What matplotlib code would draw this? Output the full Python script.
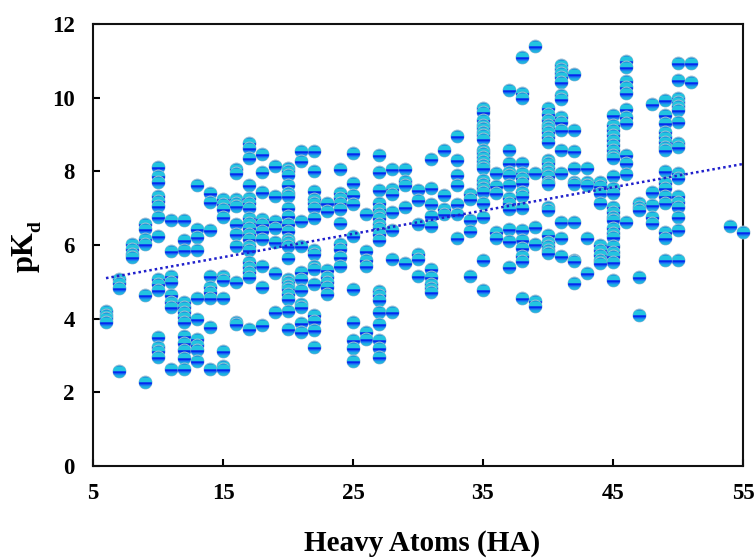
# -*- coding: utf-8 -*-
"""pKd against heavy atom count, scatter with glossy ball markers"""
import numpy as np
import matplotlib
matplotlib.use("Agg")
import matplotlib.pyplot as plt
from matplotlib.path import Path

# pKd values per heavy atom count
pk_06 = [4.21, 4.10, 4.01, 3.92]
pk_07 = [5.09, 4.97, 4.84, 2.58]
pk_08 = [6.03, 5.89, 5.76, 5.67]
pk_09 = [6.56, 6.43, 6.16, 6.03, 4.64, 2.28]
pk_10 = [8.11, 7.87, 7.71, 7.33, 7.19, 7.06, 6.76, 6.25, 5.09, 4.95, 4.77, 3.50, 3.24, 3.11, 2.97]
pk_11 = [6.67, 5.85, 5.15, 4.99, 4.64, 4.46, 4.32, 2.64]
pk_12 = [6.67, 6.13, 5.87, 4.46, 4.32, 4.19, 4.05, 3.92, 3.53, 3.33, 3.15, 2.93, 2.62]
pk_13 = [7.64, 6.43, 6.22, 5.86, 4.55, 3.99, 3.44, 3.29, 3.15, 2.84]
pk_14 = [7.42, 7.17, 6.40, 5.16, 4.86, 4.73, 4.57, 3.78, 2.62]
pk_15 = [7.24, 7.10, 6.97, 6.76, 5.15, 5.04, 4.57, 3.11, 2.71, 2.62]
pk_16 = [8.05, 7.96, 7.24, 7.15, 7.06, 6.56, 6.29, 5.98, 5.00, 3.92, 3.86]
pk_17 = [8.77, 8.63, 8.36, 7.62, 7.28, 7.15, 7.01, 6.74, 6.61, 6.47, 6.29, 6.16, 5.98, 5.86,
         5.53, 5.40, 5.26, 5.13, 3.72]
pk_18 = [8.48, 7.97, 7.44, 6.70, 6.56, 6.38, 6.16, 5.44, 4.86, 3.82]
pk_19 = [8.14, 7.33, 6.64, 6.47, 6.09, 5.24, 4.17]
pk_20 = [8.09, 8.00, 7.89, 7.64, 7.42, 7.33, 7.01, 6.79, 6.56, 6.38, 6.16, 6.07, 5.98, 5.64,
         5.08, 4.99, 4.90, 4.81, 4.68, 4.54, 4.21, 3.72]
pk_21 = [8.54, 8.27, 6.64, 5.98, 5.26, 5.08, 4.77, 4.41, 4.32, 3.87, 3.64]
pk_22 = [8.56, 8.02, 7.46, 7.24, 7.15, 7.00, 6.72, 5.86, 5.75, 5.44, 5.35, 4.93, 4.09, 3.93, 3.69, 3.22]
pk_23 = [7.13, 6.92, 5.32, 5.13, 4.99, 4.86, 4.68]
pk_24 = [8.07, 7.42, 7.28, 7.15, 6.97, 6.59, 6.03, 5.89, 5.68, 5.44]
pk_25 = [8.50, 7.68, 7.35, 7.12, 6.25, 4.80, 3.91, 3.42, 3.20, 2.85]
pk_26 = [6.83, 5.85, 5.58, 5.44, 3.63, 3.44]
pk_27 = [8.45, 7.99, 7.48, 7.14, 6.99, 6.85, 6.72, 6.58, 6.45, 6.31, 6.13, 4.75, 4.63, 4.50,
         4.18, 3.85, 3.42, 3.20, 2.97]
pk_28 = [8.05, 7.53, 7.39, 6.90, 6.40, 5.62, 4.17]
pk_29 = [8.05, 7.75, 7.64, 7.02, 5.50]
pk_30 = [7.50, 7.23, 6.56, 5.76, 5.62, 5.17]
pk_31 = [8.33, 7.55, 7.11, 6.78, 6.51, 5.35, 5.13, 4.95, 4.83, 4.72]
pk_32 = [8.59, 7.35, 6.99, 6.85]
pk_33 = [8.96, 8.30, 7.89, 7.64, 7.12, 6.85, 6.18]
pk_34 = [7.39, 7.26, 6.67, 6.39, 5.15]
pk_35 = [9.71, 9.62, 9.39, 9.26, 9.17, 9.08, 8.98, 8.89, 8.58, 8.49, 8.40, 8.29, 8.17, 8.08,
         7.77, 7.66, 7.54, 7.45, 7.13, 6.75, 5.58, 4.78]
pk_36 = [7.95, 7.59, 7.41, 6.36, 6.18]
pk_37 = [10.21, 8.59, 8.23, 7.99, 7.90, 7.63, 7.27, 7.13, 6.99, 6.44, 6.11, 5.39]
pk_38 = [11.10, 10.14, 9.99, 8.23, 7.95, 7.81, 7.68, 7.45, 7.34, 7.01, 6.41, 6.14, 5.92, 5.69, 5.56, 4.56]
pk_39 = [11.39, 7.95, 6.48, 6.03, 4.49, 4.35]
pk_40 = [9.71, 9.57, 9.39, 9.26, 9.17, 9.08, 8.93, 8.80, 8.31, 8.22, 8.08, 7.99, 7.86, 7.72, 7.66,
         7.04, 6.95, 6.27, 6.09, 5.96, 5.87, 5.78]
pk_41 = [10.89, 10.77, 10.66, 10.55, 10.42, 10.08, 9.96, 9.47, 9.35, 9.11, 8.59, 7.95, 6.63, 6.18, 5.69]
pk_42 = [10.64, 9.12, 8.56, 8.08, 7.72, 7.66, 6.63, 5.60, 5.56, 4.96]
pk_43 = [8.08, 7.72, 7.63, 6.18, 5.25]
pk_44 = [7.72, 7.59, 7.41, 7.13, 6.00, 5.87, 5.73, 5.60, 5.50]
pk_45 = [9.53, 9.26, 9.12, 8.98, 8.84, 8.71, 8.58, 8.44, 8.35, 7.87, 7.54, 7.41, 7.04, 6.90, 6.77,
         6.68, 6.45, 6.32, 6.21, 5.96, 5.82, 5.69, 5.53, 5.04]
pk_46 = [11.00, 10.84, 10.44, 10.30, 10.12, 9.69, 9.47, 9.30, 8.44, 8.23, 7.93, 6.62]
pk_47 = [7.13, 7.04, 6.95, 5.14, 4.10]
pk_48 = [9.82, 7.43, 7.08, 6.77, 6.59]
pk_49 = [9.93, 9.53, 9.30, 9.08, 8.93, 8.80, 8.66, 8.58, 8.01, 7.68, 7.54, 7.32, 7.13, 6.36, 6.18, 5.58]
pk_50 = [10.93, 10.48, 9.98, 9.89, 9.77, 9.66, 9.35, 8.76, 8.65, 7.95, 7.81, 7.32, 7.17, 7.04,
         6.77, 6.41, 5.60]
pk_51 = [10.93, 10.43]
pk_54 = [6.52]
pk_55 = [6.36]

columns = [(6, pk_06), (7, pk_07), (8, pk_08), (9, pk_09), (10, pk_10), (11, pk_11), (12, pk_12),
           (13, pk_13), (14, pk_14), (15, pk_15), (16, pk_16), (17, pk_17), (18, pk_18), (19, pk_19),
           (20, pk_20), (21, pk_21), (22, pk_22), (23, pk_23), (24, pk_24), (25, pk_25), (26, pk_26),
           (27, pk_27), (28, pk_28), (29, pk_29), (30, pk_30), (31, pk_31), (32, pk_32), (33, pk_33),
           (34, pk_34), (35, pk_35), (36, pk_36), (37, pk_37), (38, pk_38), (39, pk_39), (40, pk_40),
           (41, pk_41), (42, pk_42), (43, pk_43), (44, pk_44), (45, pk_45), (46, pk_46), (47, pk_47),
           (48, pk_48), (49, pk_49), (50, pk_50), (51, pk_51), (54, pk_54), (55, pk_55)]

trend_x = [6, 55]
trend_y = [5.10, 8.20]
x_ticks = [5, 15, 25, 35, 45, 55]
y_ticks = [0, 2, 4, 6, 8, 10, 12]


def band_marker(y0, y1):
    """slice of the unit circle between y0 and y1, keeps full width so the scale stays"""
    t = np.linspace(np.arcsin(y0), np.arcsin(y1), 12)
    right = np.column_stack([np.cos(t), np.sin(t)])
    left = np.column_stack([-np.cos(t[::-1]), np.sin(t[::-1])])
    verts = np.vstack([right, left, right[:1]])
    # empty moves out to radius 1 so matplotlib scales it like the circle
    verts = np.vstack([verts, [[1, 0], [-1, 0], [0, 1], [0, -1]]])
    codes = [Path.MOVETO] + [Path.LINETO] * 23 + [Path.CLOSEPOLY] + [Path.MOVETO] * 4
    return Path(verts, codes)


plt.rcParams['font.family'] = ['Liberation Serif']
plt.rcParams['font.weight'] = 'bold'

fig = plt.figure(figsize=(7.56, 5.58), dpi=100)
ax = fig.add_axes([93 / 756, 1 - 466 / 558, 650 / 756, 442 / 558])

# glossy ball: base colour + stacked bands, low balls are drawn last so they sit on top
layers = [
    (band_marker(0.0, 0.72), '#22c4e0'),
    (band_marker(-0.55, 0.0), '#1a86f2'),
    (band_marker(-0.30, 0.02), '#0628ee'),
    (band_marker(-0.95, -0.60), '#1eb2e2'),
]
points = [(x, v) for x, vals in columns for v in vals]
points.sort(key=lambda p: -p[1])
size = 86
for i, (x, v) in enumerate(points):
    ax.scatter(x, v, s=size, marker='o', color='#1e98dc', edgecolors='#9dbcd2', linewidths=0.7,
               zorder=3 + i * 0.001, clip_on=False)
    for path, col in layers:
        ax.scatter(x, v, s=size, marker=path, color=col, linewidths=0,
                   zorder=3 + i * 0.001, clip_on=False)

ax.plot(trend_x, trend_y, color='#2020cc', linestyle=(0, (1, 1.2)), linewidth=1.8, zorder=20)

ax.set_xlim(5, 55)
ax.set_ylim(0, 12)
ax.set_xticks(x_ticks)
ax.set_yticks(y_ticks)
ax.tick_params(direction='in', length=5, width=1.5, labelsize=16.5)
ax.tick_params(axis='x', pad=12)
ax.tick_params(axis='y', pad=13)
for s in ax.spines.values():
    s.set_linewidth(1.5)
    s.set_color('#111111')

fig.text(422 / 756, 1 - 551 / 558, 'Heavy Atoms (HA)', ha='center', va='baseline', fontsize=21, fontweight='bold')
# pK and the subscript d are set by hand, rotated along the axis
fig.text(33 / 756, 1 - 272 / 558, 'pK', rotation=90, rotation_mode='anchor', ha='left', va='baseline',
         fontsize=22, fontweight='bold')
fig.text(40 / 756, 1 - 232 / 558, 'd', rotation=90, rotation_mode='anchor', ha='left', va='baseline',
         fontsize=14, fontweight='bold')

fig.savefig('out.png', dpi=100)
